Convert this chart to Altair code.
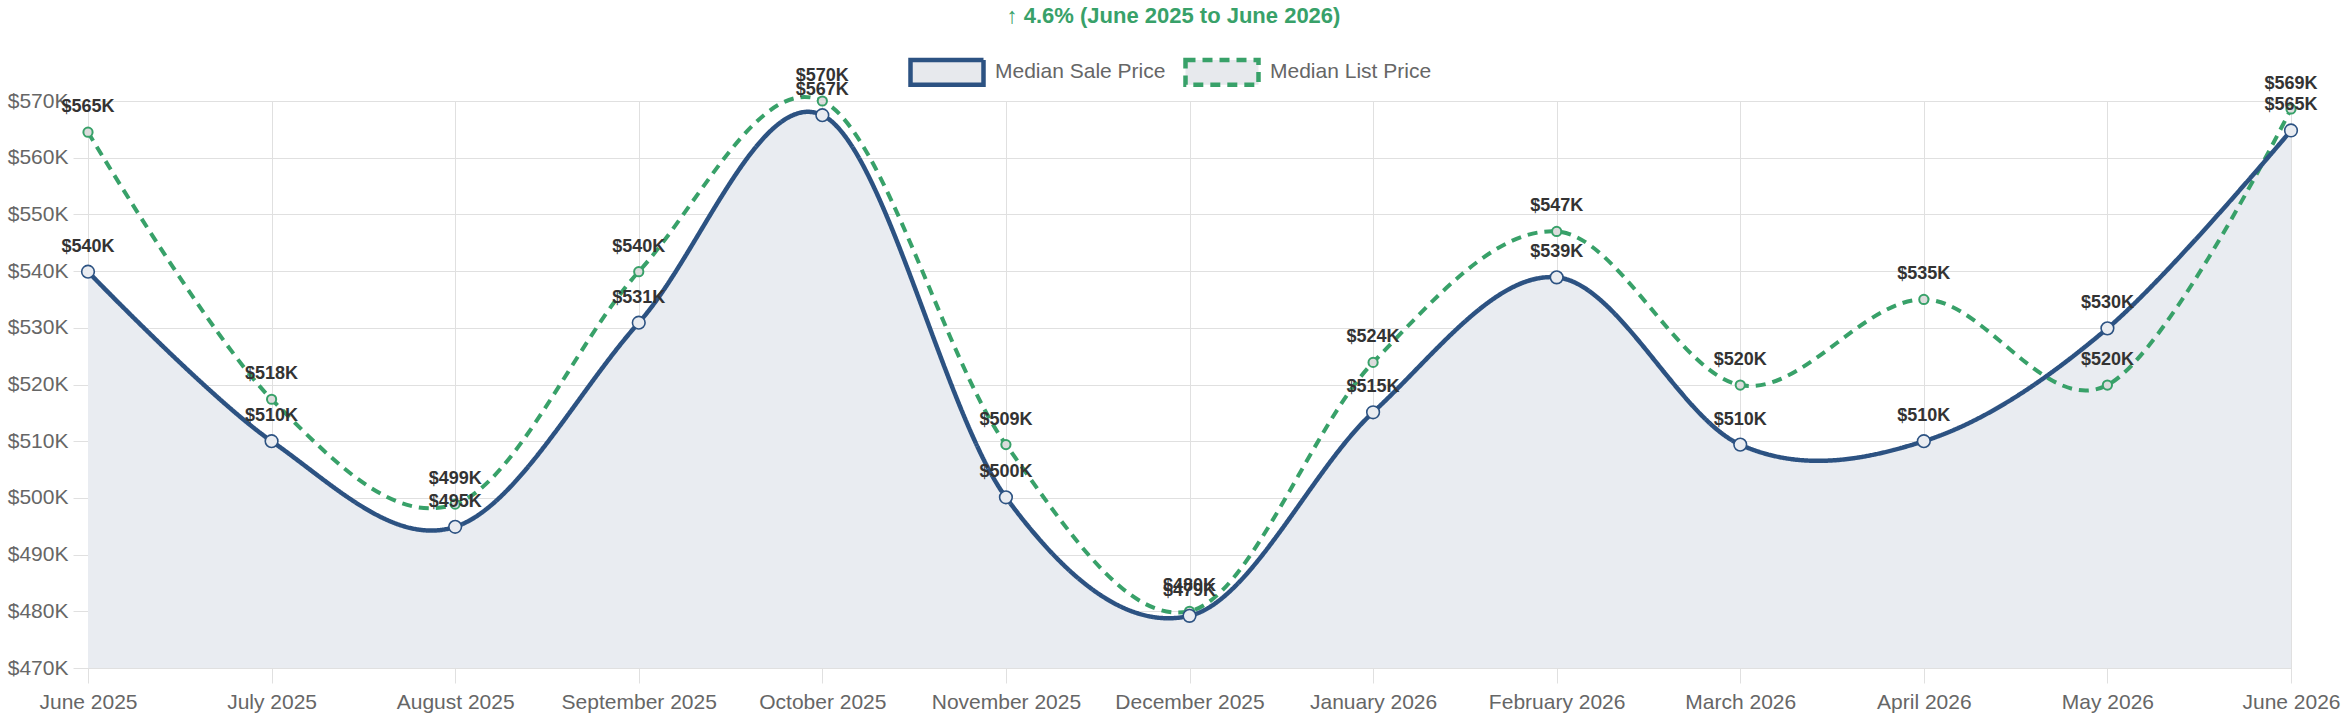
import altair as alt
import pandas as pd

months = ["June 2025", "July 2025", "August 2025", "September 2025", "October 2025",
          "November 2025", "December 2025", "January 2026", "February 2026",
          "March 2026", "April 2026", "May 2026", "June 2026"]
sale_values = [539.9, 510.0, 494.9, 530.9, 567.5, 500.1, 479.2, 515.1, 538.9, 509.4, 510.0, 529.9, 564.8]
sale_labels = ["$540K", "$510K", "$495K", "$531K", "$567K", "$500K", "$479K", "$515K",
               "$539K", "$510K", "$510K", "$530K", "$565K"]
list_values = [564.5, 517.4, 498.9, 539.9, 570.0, 509.4, 480.0, 523.9, 547.0, 519.9, 535.0, 519.9, 568.6]
list_labels = ["$565K", "$518K", "$499K", "$540K", "$570K", "$509K", "$480K", "$524K",
               "$547K", "$520K", "$535K", "$520K", "$569K"]
y_ticks = [470, 480, 490, 500, 510, 520, 530, 540, 550, 560, 570]
series_names = ["Median Sale Price", "Median List Price"]
title_text = "↑ 4.6% (June 2025 to June 2026)"

SALE = "#2c5282"
LIST = "#38a169"
FONT = "Liberation Sans"

sale_df = pd.DataFrame({"month": months, "value": sale_values, "label": sale_labels,
                        "series": series_names[0]})
list_df = pd.DataFrame({"month": months, "value": list_values, "label": list_labels,
                        "series": series_names[1]})

x_enc = alt.X("month:N", sort=months, scale=alt.Scale(type="point", padding=0),
              axis=alt.Axis(title=None, labelAngle=0, grid=True, gridColor="#e0e0e0",
                            domain=False, ticks=True, tickColor="#e0e0e0", tickSize=15,
                            labelFontSize=21, labelColor="#666666", labelPadding=8,
                            labelFont=FONT, labelOverlap=False))
y_enc = alt.Y("value:Q", scale=alt.Scale(domain=[470, 570], nice=False, zero=False),
              axis=alt.Axis(title=None, values=y_ticks, grid=True, gridColor="#e0e0e0",
                            domain=False, ticks=True, tickColor="#e0e0e0", tickSize=15,
                            labelFontSize=21, labelColor="#666666", labelPadding=5,
                            labelFont=FONT, labelExpr="'$' + datum.value + 'K'"))

color_scale = alt.Scale(domain=series_names, range=[SALE, LIST])
dash_scale = alt.Scale(domain=series_names, range=[[1, 0], [10, 7]])
legend = alt.Legend(title=None, orient="none", legendX=820, legendY=-68, direction="horizontal",
                    symbolType="M-1,-0.34H1V0.34H-1Z", symbolSize=5329, symbolStrokeWidth=4.5,
                    symbolFillColor="#e7e9ed", labelLimit=400,
                    labelFontSize=21, labelColor="#666666", labelFont=FONT, labelOffset=9,
                    columnPadding=10)

area = alt.Chart(sale_df).mark_area(interpolate="cardinal", color="#e9ecf1").encode(
    x=x_enc, y=y_enc, y2=alt.datum(470))

def line(df, width):
    return alt.Chart(df).mark_line(interpolate="cardinal", strokeWidth=width).encode(
        x=x_enc, y=y_enc,
        color=alt.Color("series:N", scale=color_scale, legend=legend),
        strokeDash=alt.StrokeDash("series:N", scale=dash_scale, legend=legend))

list_line = line(list_df, 4)
sale_line = line(sale_df, 4.5)

sale_pts = alt.Chart(sale_df).mark_point(shape="circle", size=160, filled=False, fill="#e9ecf1",
                                         fillOpacity=1, stroke=SALE, strokeWidth=1.6, opacity=1).encode(
    x=x_enc, y=y_enc)
list_pts = alt.Chart(list_df).mark_point(shape="circle", size=85, filled=False, fill="#dcdcdc",
                                         fillOpacity=1, stroke=LIST, strokeWidth=2, opacity=1).encode(
    x=x_enc, y=y_enc)

def labels(df):
    return alt.Chart(df).mark_text(dy=-25, fontSize=18, fontWeight="bold", color="#333333",
                                   font=FONT, baseline="middle", align="center").encode(
        x=x_enc, y=y_enc, text="label:N")

chart = alt.layer(area, list_line, sale_line, list_pts, sale_pts, labels(list_df), labels(sale_df)).properties(
    width=2203, height=567,
    padding={"left": 88, "top": 101, "right": 56, "bottom": 51},
    autosize=alt.AutoSizeParams(type="none"),
    title=alt.TitleParams(title_text, fontSize=22, fontWeight="bold", color=LIST, font=FONT,
                          anchor="middle", dx=-16, offset=5),
).configure_view(stroke=None).configure(font=FONT)

chart.save("out.html", embed_options={"renderer": "svg", "actions": False})
